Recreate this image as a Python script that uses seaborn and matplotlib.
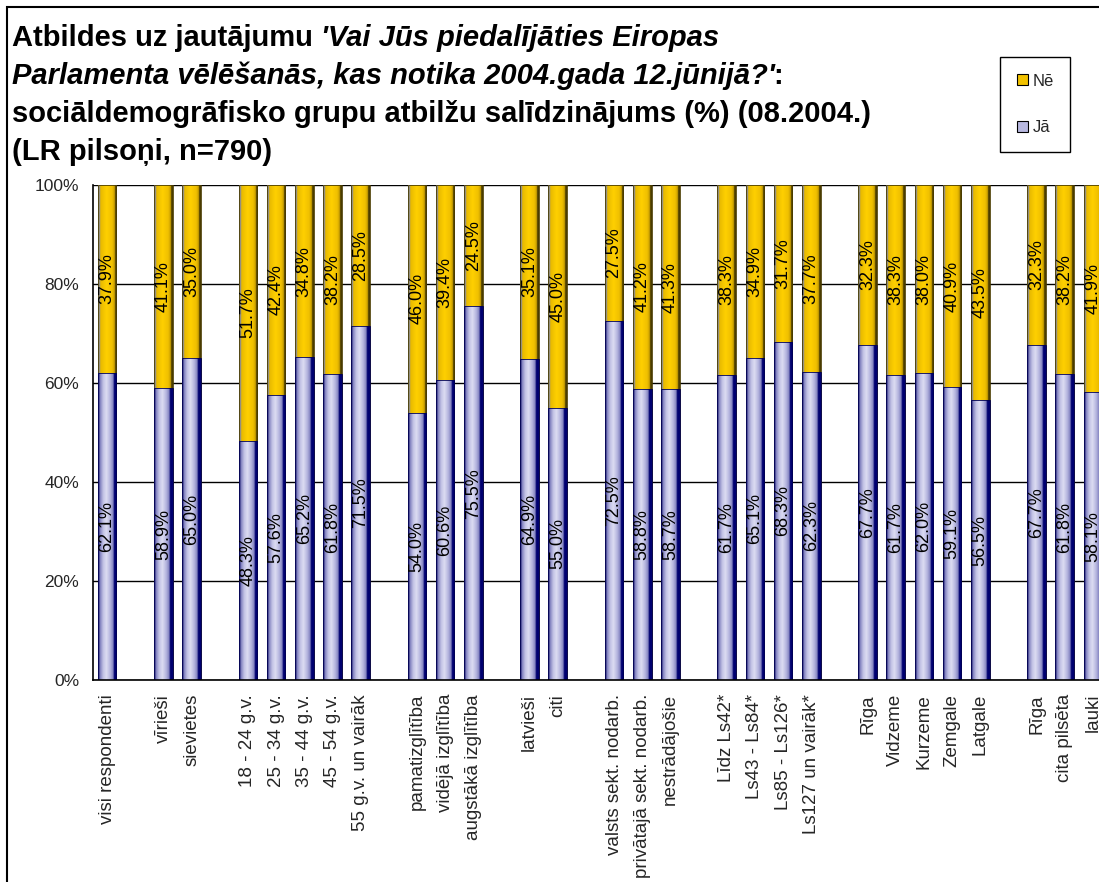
# Social-demographic comparison of EP election participation (08.2004)

import numpy as np
import pandas as pd
import matplotlib
matplotlib.use("Agg")
import matplotlib.pyplot as plt
import seaborn as sns
from matplotlib.patches import Patch, Rectangle
from matplotlib.colors import LinearSegmentedColormap

# Data (None = empty slot between groups)

labels = [
    "visi respondenti", "",
    "vīrieši", "sievietes", "",
    "18 - 24 g.v.", "25 - 34 g.v.", "35 - 44 g.v.", "45 - 54 g.v.", "55 g.v. un vairāk", "",
    "pamatizglītība", "vidējā izglītība", "augstākā izglītība", "",
    "latvieši", "citi", "",
    "valsts sekt. nodarb.", "privātajā sekt. nodarb.", "nestrādājošie", "",
    "Līdz Ls42*", "Ls43 - Ls84*", "Ls85 - Ls126*", "Ls127 un vairāk*", "",
    "Rīga", "Vidzeme", "Kurzeme", "Zemgale", "Latgale", "",
    "Rīga", "cita pilsēta", "lauki",
]

ja = [
    62.1, None,
    58.9, 65.0, None,
    48.3, 57.6, 65.2, 61.8, 71.5, None,
    54.0, 60.6, 75.5, None,
    64.9, 55.0, None,
    72.5, 58.8, 58.7, None,
    61.7, 65.1, 68.3, 62.3, None,
    67.7, 61.7, 62.0, 59.1, 56.5, None,
    67.7, 61.8, 58.1,
]

ne = [
    37.9, None,
    41.1, 35.0, None,
    51.7, 42.4, 34.8, 38.2, 28.5, None,
    46.0, 39.4, 24.5, None,
    35.1, 45.0, None,
    27.5, 41.2, 41.3, None,
    38.3, 34.9, 31.7, 37.7, None,
    32.3, 38.3, 38.0, 40.9, 43.5, None,
    32.3, 38.2, 41.9,
]

yticks = [0, 20, 40, 60, 80, 100]

slots = [f"s{i}" for i in range(len(labels))]

df = pd.DataFrame({"slot": slots, "Jā": ja, "Nē": ne}).dropna()
df["total"] = df["Jā"] + df["Nē"]

# Style

sns.set_style("white")
plt.rcParams["font.family"] = ["Liberation Sans", "DejaVu Sans"]

W, H = 1099, 882
fig = plt.figure(figsize=(W / 100, H / 100), dpi=100)
ax = fig.add_axes([93 / W, 1 - 680 / H, 1014 / W, 495 / H])

# Bars: full (yellow) first, then Jā (blue) on top

sns.barplot(data=df, x="slot", y="total", order=slots, color="#f2c200",
            width=0.66, ax=ax, zorder=2)
sns.barplot(data=df, x="slot", y="Jā", order=slots, color="#b8b8e0",
            width=0.66, ax=ax, zorder=3)

yellow_cmap = LinearSegmentedColormap.from_list("yel", [
    (0.0, "#8c8c8c"), (0.1, "#8c8c8c"), (0.12, "#e6b800"), (0.45, "#ffd000"),
    (0.75, "#f0c000"), (0.88, "#c89e00"), (0.92, "#4a3c00"), (1.0, "#4a3c00")])
blue_cmap = LinearSegmentedColormap.from_list("blu", [
    (0.0, "#303080"), (0.06, "#303080"), (0.1, "#7c7cbc"), (0.28, "#c4c4e6"),
    (0.45, "#dcdcf2"), (0.65, "#b4b4de"), (0.8, "#8282c0"), (0.86, "#000070"),
    (1.0, "#000070")])

grad = np.linspace(0, 1, 256).reshape(1, -1)


def shade(bars, cmap, z, edge):
    for bar in bars:
        x, y, w, h = bar.get_x(), bar.get_y(), bar.get_width(), bar.get_height()
        if np.isnan(h) or h == 0:
            continue
        im = ax.imshow(grad, extent=[x, x + w, y, y + h], aspect="auto",
                       cmap=cmap, zorder=z + 0.1, interpolation="bilinear")
        im.set_clip_path(bar)
        bar.set_facecolor("none")
        bar.set_edgecolor(edge)
        bar.set_linewidth(0.6)
        bar.set_zorder(z + 0.2)


shade(ax.containers[0], yellow_cmap, 2, "#4a3c00")
shade(ax.containers[1], blue_cmap, 3, "#000050")

# Data labels

for i, (a, b) in enumerate(zip(ja, ne)):
    if a is None:
        continue
    ax.text(i, a / 2, f"{a:.1f}%", rotation=90, ha="center", va="center",
            fontsize=13, color="black", zorder=6)
    ax.text(i, a + b / 2, f"{b:.1f}%", rotation=90, ha="center", va="center",
            fontsize=13, color="black", zorder=6)

# Axes

ax.set_xlim(-0.5, len(labels) - 0.5)
ax.set_ylim(0, 100)
ax.set_yticks(yticks)
ax.set_yticklabels([f"{v}%" for v in yticks], fontsize=12.5)
ax.set_xticks(range(len(labels)))
ax.set_xticklabels(labels, rotation=90, fontsize=13.5)
ax.set_xticks(np.arange(-0.5, len(labels), 1), minor=True)
ax.tick_params(axis="x", which="major", length=0, pad=10)
ax.tick_params(axis="x", which="minor", length=5, width=1, color="black", direction="out")
ax.tick_params(axis="y", length=5, width=1, color="black", direction="out", pad=5)
ax.set_xlabel("")
ax.set_ylabel("")

ax.yaxis.grid(True, color="black", linewidth=1)
ax.set_axisbelow(True)
for s in ["top", "right"]:
    ax.spines[s].set_visible(False)
for s in ["left", "bottom"]:
    ax.spines[s].set_color("black")
    ax.spines[s].set_linewidth(1.2)
ax.spines["bottom"].set_zorder(5)

# Title with mixed bold / bold-italic parts

title_lines = [
    [("Atbildes uz jautājumu", "normal", 8), ("'Vai Jūs piedalījāties Eiropas", "italic", 0)],
    [("Parlamenta vēlēšanās, kas notika 2004.gada 12.jūnijā?'", "italic", -1), (":", "normal", 0)],
    [("sociāldemogrāfisko grupu atbilžu salīdzinājums (%) (08.2004.)", "normal", 0)],
    [("(LR pilsoņi, n=790)", "normal", 0)],
]
baselines = [46, 84, 122, 160]

renderer = fig.canvas.get_renderer()
for parts, yb in zip(title_lines, baselines):
    x = 12
    for text, style, gap in parts:
        t = fig.text(x / W, 1 - yb / H, text, fontsize=21, fontweight="bold",
                     fontstyle=style, ha="left", va="baseline", color="black")
        x += t.get_window_extent(renderer).width + gap

# Legend

handles = [
    Patch(facecolor="#f2c200", edgecolor="black", linewidth=0.8, label="Nē"),
    Patch(facecolor="#b8b8e0", edgecolor="black", linewidth=0.8, label="Jā"),
]
leg = fig.legend(handles=handles, loc="upper left",
                 bbox_to_anchor=(1000 / W, 1 - 57 / H), frameon=True,
                 fancybox=False, framealpha=1, edgecolor="black", fontsize=12,
                 handlelength=0.65, handleheight=0.65, handletextpad=0.3,
                 labelspacing=1.9, borderpad=1.0, borderaxespad=0)
leg.get_frame().set_linewidth(1)

# Outer chart border (continues past the right/bottom edge)

fig.add_artist(Rectangle((7 / W, -0.1), 1.2, 1 - 7 / H + 0.1,
                         transform=fig.transFigure, fill=False,
                         edgecolor="black", linewidth=1.5))

plt.savefig("out.png", dpi=100)
